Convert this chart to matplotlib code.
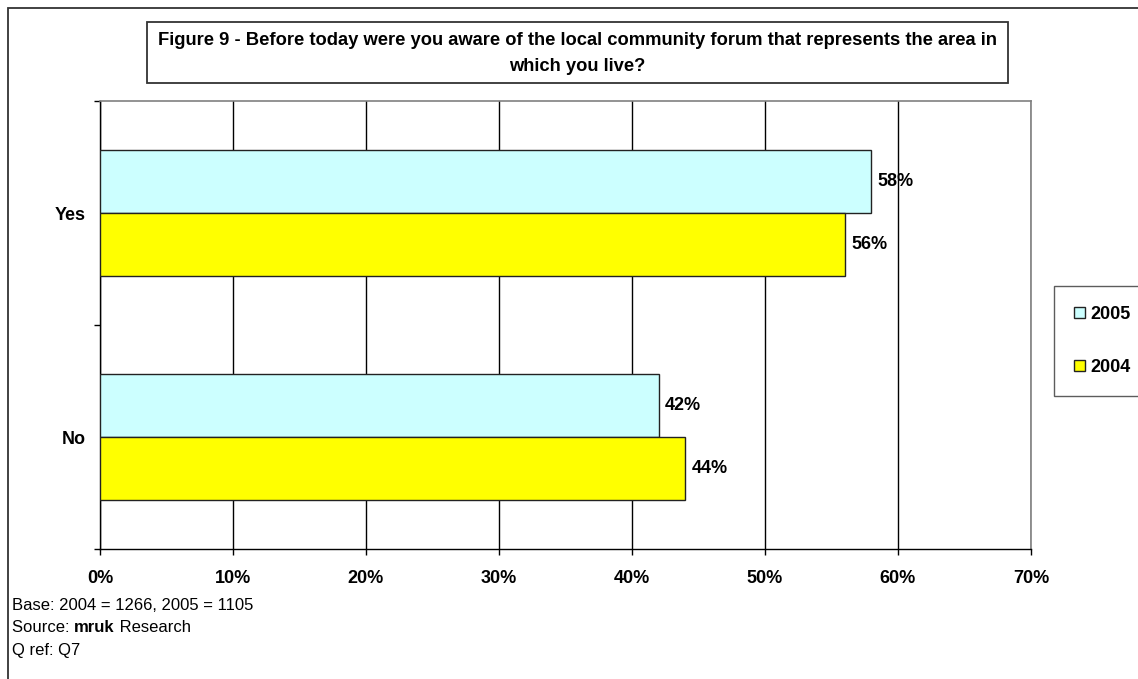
import numpy as np
import matplotlib
matplotlib.use('Agg')
import matplotlib.pyplot as plt
from matplotlib.patches import Rectangle, Patch

plt.rcParams['font.family'] = ['Liberation Sans', 'DejaVu Sans']

categories = ['Yes', 'No']
years = ['2005', '2004']
values_2005 = [58, 42]
values_2004 = [56, 44]
colors = {'2005': '#CCFFFF', '2004': '#FFFF00'}
x_ticks = [0, 10, 20, 30, 40, 50, 60, 70]

W, H = 1138, 679
fig = plt.figure(figsize=(W / 100, H / 100), dpi=100)

# plot area in pixel terms
left, right, top, bottom = 100, 1031, 101, 549
ax = fig.add_axes([left / W, 1 - bottom / H, (right - left) / W, (bottom - top) / H])

ypos = np.arange(len(categories))[::-1]  # Yes on top
bh = 0.28
b05 = ax.barh(ypos + bh / 2, values_2005, height=bh, color=colors['2005'],
              edgecolor='#222222', linewidth=1, zorder=3, label='2005')
b04 = ax.barh(ypos - bh / 2, values_2004, height=bh, color=colors['2004'],
              edgecolor='#222222', linewidth=1, zorder=3, label='2004')

for bars in (b05, b04):
    for rect in bars:
        v = rect.get_width()
        ax.annotate('%d%%' % v, (v, rect.get_y() + rect.get_height() / 2),
                    xytext=(4.5, 0), textcoords='offset points', va='center', ha='left',
                    fontsize=13, fontweight='bold', zorder=4)

ax.set_xlim(0, 70)
ax.set_ylim(-0.5, 1.5)
ax.set_xticks(x_ticks)
ax.set_xticklabels(['%d%%' % t for t in x_ticks], fontsize=13, fontweight='bold')
ax.tick_params(axis='x', length=4.3, width=1, color='black', pad=11)
ax.xaxis.grid(True, color='black', linewidth=1, zorder=1)

# category labels sit between the tick marks
ax.set_yticks([-0.5, 0.5, 1.5])
ax.set_yticklabels([])
ax.tick_params(axis='y', which='major', length=4.3, width=1, color='black')
ax.set_yticks(ypos, minor=True)
ax.set_yticklabels(categories, minor=True, fontsize=13, fontweight='bold')
ax.tick_params(axis='y', which='minor', length=0, pad=10)

for s in ('left', 'bottom'):
    ax.spines[s].set_color('black')
    ax.spines[s].set_linewidth(1)
for s in ('top', 'right'):
    ax.spines[s].set_color('#808080')
    ax.spines[s].set_linewidth(1.2)

# outer chart border (left and top edges visible)
fig.patches.append(Rectangle((8 / W, -0.05), 1.1, 1 - 8 / H + 0.05, transform=fig.transFigure,
                             fill=False, edgecolor='#333333', linewidth=1.3))

# title box
tx0, tx1, ty0, ty1 = 147, 1008, 22, 83
fig.patches.append(Rectangle((tx0 / W, 1 - ty1 / H), (tx1 - tx0) / W, (ty1 - ty0) / H,
                             transform=fig.transFigure, fill=False, edgecolor='#333333',
                             linewidth=1.3))
fig.text((tx0 + tx1) / 2 / W, 1 - (ty0 + ty1 + 2) / 2 / H,
         'Figure 9 - Before today were you aware of the local community forum that represents the area in\nwhich you live?',
         ha='center', va='center', fontsize=13.2, fontweight='bold', linespacing=1.75)

# legend box at right edge
handles = [Patch(facecolor=colors[y], edgecolor='#222222', label=y) for y in years]
fig.legend(handles=handles, loc='upper left', bbox_to_anchor=(1054 / W, 1 - 286 / H),
           frameon=True, fancybox=False, edgecolor='#333333',
           handlelength=0.6, handleheight=0.6, handletextpad=0.3, labelspacing=2.0,
           borderpad=1.1, borderaxespad=0, prop={'weight': 'bold', 'size': 13})

# footnotes
fs = 12
fig.text(12 / W, 1 - 605 / H, 'Base: 2004 = 1266, 2005 = 1105', fontsize=fs, va='center')
src = fig.text(12 / W, 1 - 628 / H, 'Source: ', fontsize=fs, va='center')
fig.canvas.draw()
r = fig.canvas.get_renderer()
x = src.get_window_extent(r).x1
b = fig.text(x / W, 1 - 628 / H, 'mruk', fontsize=fs, fontweight='bold', va='center')
x = b.get_window_extent(r).x1
fig.text(x / W, 1 - 628 / H, ' Research', fontsize=fs, va='center')
fig.text(12 / W, 1 - 651 / H, 'Q ref: Q7', fontsize=fs, va='center')

fig.savefig('out.png', dpi=100)
